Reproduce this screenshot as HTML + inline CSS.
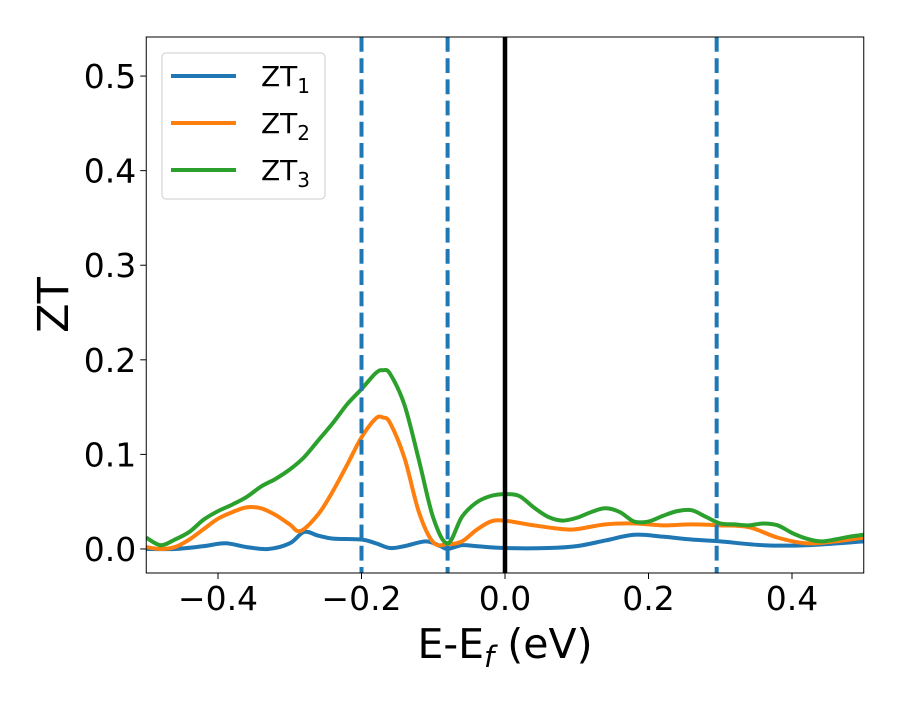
<!DOCTYPE html>
<html><head><meta charset="utf-8">
<style>
body{margin:0;background:#fff;}
svg text{font-family:"DejaVu Sans","Liberation Sans",sans-serif;fill:#000;}
</style></head>
<body>
<svg id="chart" width="900" height="700" xmlns="http://www.w3.org/2000/svg">
<rect width="900" height="700" fill="#fff"/>
<g id="marks"></g>
<g id="axes"></g>
</svg>
<script>
const xTicks = [-0.4, -0.2, 0.0, 0.2, 0.4];
const xTickLabels = ["\u22120.4", "\u22120.2", "0.0", "0.2", "0.4"];
const yTicks = [0, 0.1, 0.2, 0.3, 0.4, 0.5];
const yTickLabels = ["0.0", "0.1", "0.2", "0.3", "0.4", "0.5"];
const dashedLines = [-0.2, -0.08, 0.295];
const solidLine = [0.0];
const zt1X = [-0.5,-0.46,-0.42,-0.39,-0.36,-0.33,-0.30,-0.28,-0.26,-0.24,-0.20,-0.18,-0.16,-0.14,-0.11,-0.09,-0.08,-0.06,-0.04,0,0.06,0.10,0.14,0.18,0.22,0.26,0.30,0.36,0.42,0.50];
const zt1Y = [0,0,0.003,0.006,0.002,0,0.006,0.018,0.014,0.011,0.010,0.006,0.001,0.003,0.008,0.003,0,0.004,0.003,0.001,0.001,0.003,0.009,0.015,0.013,0.010,0.008,0.004,0.004,0.008];
const zt2X = [-0.5,-0.48,-0.46,-0.44,-0.42,-0.40,-0.38,-0.36,-0.34,-0.32,-0.30,-0.285,-0.26,-0.24,-0.22,-0.20,-0.18,-0.17,-0.16,-0.14,-0.12,-0.10,-0.08,-0.06,-0.04,-0.02,0,0.04,0.08,0.10,0.14,0.18,0.22,0.26,0.30,0.34,0.38,0.42,0.46,0.50];
const zt2Y = [0.002,0,0.002,0.010,0.021,0.032,0.039,0.044,0.043,0.036,0.026,0.019,0.037,0.061,0.089,0.118,0.138,0.139,0.133,0.096,0.039,0.007,0.005,0.008,0.020,0.029,0.030,0.025,0.021,0.021,0.026,0.027,0.025,0.026,0.025,0.023,0.012,0.006,0.008,0.012];
const zt3X = [-0.5,-0.48,-0.46,-0.44,-0.42,-0.40,-0.38,-0.36,-0.34,-0.32,-0.30,-0.28,-0.26,-0.24,-0.22,-0.20,-0.18,-0.17,-0.16,-0.14,-0.12,-0.10,-0.08,-0.06,-0.04,-0.02,0,0.02,0.04,0.06,0.08,0.10,0.12,0.14,0.16,0.18,0.20,0.22,0.24,0.26,0.28,0.30,0.32,0.34,0.36,0.38,0.40,0.42,0.44,0.46,0.48,0.50];
const zt3Y = [0.012,0.004,0.010,0.018,0.031,0.040,0.047,0.055,0.066,0.074,0.084,0.097,0.115,0.133,0.153,0.169,0.186,0.189,0.185,0.152,0.094,0.033,0.006,0.034,0.049,0.056,0.058,0.056,0.044,0.034,0.030,0.033,0.039,0.043,0.039,0.029,0.029,0.035,0.040,0.041,0.034,0.027,0.026,0.025,0.027,0.025,0.017,0.011,0.008,0.010,0.013,0.015];

const L=146.25,R=863.75,T=37,B=573;
const xMin=-0.5,xMax=0.5,yMin=-0.0254,yMax=0.5413;
const sx=v=>L+(v-xMin)/(xMax-xMin)*(R-L);
const sy=v=>B-(v-yMin)/(yMax-yMin)*(B-T);
const NS="http://www.w3.org/2000/svg";
const marks=document.getElementById('marks');
const axes=document.getElementById('axes');
function mk(tag,attrs,parent){const e=document.createElementNS(NS,tag);for(const k in attrs)e.setAttribute(k,attrs[k]);parent.appendChild(e);return e;}

const clip=mk('clipPath',{id:'pc'},marks);mk('rect',{x:L,y:T,width:R-L,height:B-T},clip);

function pathFor(xs,ys){
  const p=xs.map((x,i)=>[sx(x),sy(ys[i])]);
  let d=`M${p[0][0]},${p[0][1]}`;
  for(let i=0;i<p.length-1;i++){
    const p0=p[Math.max(0,i-1)],p1=p[i],p2=p[i+1],p3=p[Math.min(p.length-1,i+2)];
    const c1=[p1[0]+(p2[0]-p0[0])/6,p1[1]+(p2[1]-p0[1])/6];
    const c2=[p2[0]-(p3[0]-p1[0])/6,p2[1]-(p3[1]-p1[1])/6];
    d+=`C${c1[0]},${c1[1]} ${c2[0]},${c2[1]} ${p2[0]},${p2[1]}`;
  }
  return d;
}
const series=[[zt1X,zt1Y,'#1f77b4','zt1-line'],[zt2X,zt2Y,'#ff7f0e','zt2-line'],[zt3X,zt3Y,'#2ca02c','zt3-line']];
series.forEach(s=>{
  const e=mk('path',{d:pathFor(s[0],s[1]),fill:'none',stroke:s[2],'stroke-width':4,'stroke-linejoin':'round','clip-path':'url(#pc)'},marks);
  
  
});
dashedLines.forEach(v=>{
  const e=mk('line',{x1:sx(v),x2:sx(v),y1:T,y2:B,stroke:'#1f77b4','stroke-width':4,'stroke-dasharray':'14.8,6.4'},marks);
  
  
});
solidLine.forEach(v=>{
  const e=mk('line',{x1:sx(v),x2:sx(v),y1:T,y2:B,stroke:'#000','stroke-width':4.5},marks);
  
  
});

const frame=mk('rect',{x:L,y:T,width:R-L,height:B-T,fill:'none',stroke:'#000','stroke-width':1},axes);


xTicks.forEach((v,i)=>{
  mk('line',{x1:sx(v),x2:sx(v),y1:B,y2:B+6,stroke:'#000','stroke-width':1},axes);
  const t=mk('text',{x:sx(v),y:B+37,'text-anchor':'middle','font-size':33},axes);
  t.textContent=xTickLabels[i];
  
  
});
yTicks.forEach((v,i)=>{
  mk('line',{x1:L-6,x2:L,y1:sy(v),y2:sy(v),stroke:'#000','stroke-width':1},axes);
  const t=mk('text',{x:L-10,y:sy(v)+12,'text-anchor':'end','font-size':33},axes);
  t.textContent=yTickLabels[i];
  
  
});
const xt=mk('text',{x:505,y:658,'text-anchor':'middle','font-size':41},axes);
xt.innerHTML='E-E<tspan font-style="italic" font-size="29" dy="9">f</tspan><tspan dy="-9"> (eV)</tspan>';


const yt=mk('text',{x:0,y:0,'text-anchor':'middle','font-size':43,transform:'translate(68,305) rotate(-90)'},axes);
yt.textContent='ZT';



const lg=mk('g',{},axes);


mk('rect',{x:162,y:53,width:163,height:146,rx:4,fill:'#fff','fill-opacity':0.8,stroke:'#cccccc','stroke-width':1},lg);
series.forEach((s,i)=>{
  const y=76+i*47;
  const g=mk('g',{},lg);
  
  
  mk('line',{x1:171,x2:236,y1:y,y2:y,stroke:s[2],'stroke-width':4},g);
  const t=mk('text',{x:261,y:y+10,'font-size':28},g);
  t.innerHTML='ZT<tspan font-size="20" dy="7">'+(i+1)+'</tspan>';
});
</script>
</body></html>
